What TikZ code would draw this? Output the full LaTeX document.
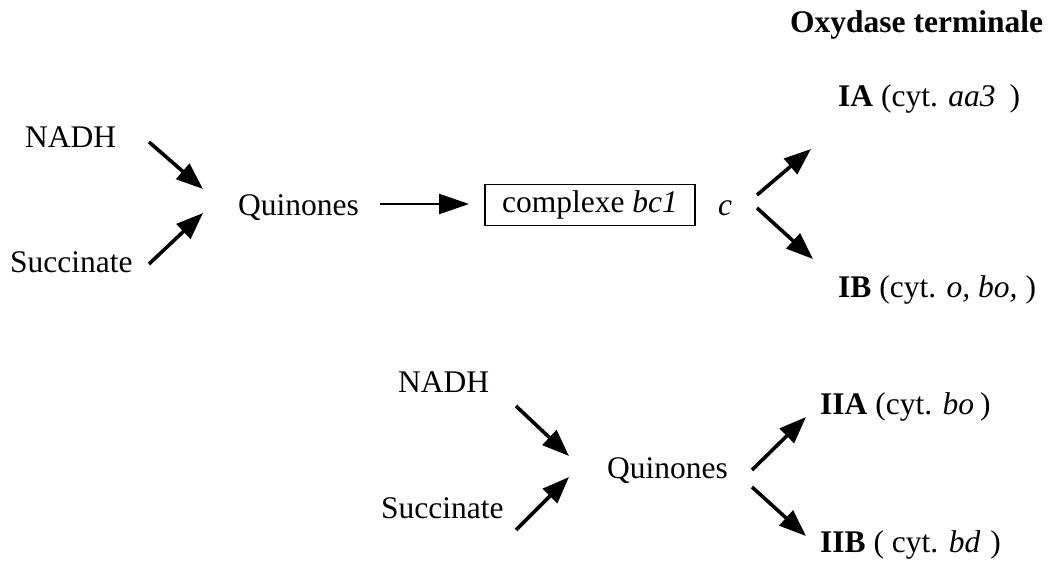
\documentclass[tikz,border=0pt]{standalone}
\usepackage{fontspec}
\setmainfont{Liberation Serif}
\usetikzlibrary{arrows.meta}
\begin{document}
\begin{tikzpicture}[x=1pt,y=-1pt,
  lbl/.style={anchor=base west,inner sep=0pt,font=\fontsize{31.5}{38}\selectfont},
  hdr/.style={anchor=base west,inner sep=0pt,font=\fontsize{31.5}{38}\selectfont\bfseries},
  bigarrow/.style={line width=3.6pt,-{Triangle[length=27pt,width=20pt]}},
  horarrow/.style={line width=2.4pt,-{Triangle[length=30pt,width=20pt]}},
  boxed/.style={draw,line width=1.8pt,minimum width=210pt,minimum height=41pt,inner sep=0pt,font=\fontsize{31.5}{38}\selectfont}]
\useasboundingbox (0,0) rectangle (1051,564);
% texts
\node[hdr] (hdr) at (790,33) {Oxydase terminale};
\node[lbl] (ia) at (838,107) {\textbf{IA} (cyt. \textit{aa3}\hspace{14pt})};
\node[lbl] (nadh1) at (25,148) {NADH};
\node[lbl] (quin1) at (238,215) {Quinones};
\node[boxed] (bc) at (590,205) {complexe \textit{bc1}\hspace{6pt}};
\node[lbl] (c) at (718,215) {\textit{c}};
\node[lbl] (succ1) at (10,272) {Succinate};
\node[lbl] (ib) at (838,297) {\textbf{IB} (cyt. \textit{o, bo,}\hspace{8pt})};
\node[lbl] (nadh2) at (398,392) {NADH};
\node[lbl] (iia) at (820,414) {\textbf{IIA} (cyt. \textit{bo}\hspace{6pt})};
\node[lbl] (quin2) at (607,478) {Quinones};
\node[lbl] (succ2) at (381,518) {Succinate};
\node[lbl] (iib) at (820,552) {\textbf{IIB} ( cyt. \textit{bd}\hspace{10pt})};
% arrow ends
\coordinate (a1s) at (149,142); \coordinate (a1e) at (203,189);
\coordinate (a2s) at (149,264); \coordinate (a2e) at (203,213);
\coordinate (a3s) at (380,204); \coordinate (a3e) at (469,204);
\coordinate (a4s) at (757,195); \coordinate (a4e) at (811,149);
\coordinate (a5s) at (757,208); \coordinate (a5e) at (813,259);
\coordinate (b1s) at (516,406); \coordinate (b1e) at (569,456);
\coordinate (b2s) at (516,530); \coordinate (b2e) at (569,477);
\coordinate (b3s) at (752,470); \coordinate (b3e) at (806,417);
\coordinate (b4s) at (752,487); \coordinate (b4e) at (806,536);
\draw[bigarrow] (a1s) -- (a1e);
\draw[bigarrow] (a2s) -- (a2e);
\draw[horarrow] (a3s) -- (a3e);
\draw[bigarrow] (a4s) -- (a4e);
\draw[bigarrow] (a5s) -- (a5e);
\draw[bigarrow] (b1s) -- (b1e);
\draw[bigarrow] (b2s) -- (b2e);
\draw[bigarrow] (b3s) -- (b3e);
\draw[bigarrow] (b4s) -- (b4e);
\end{tikzpicture}
\end{document}
